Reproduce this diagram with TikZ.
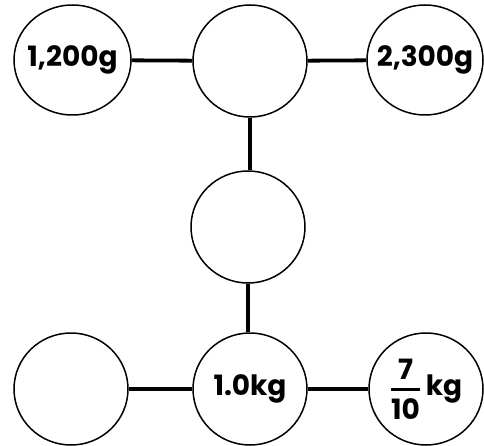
\documentclass[tikz,border=0pt]{standalone}
\usepackage{amsmath}
\usepackage{fontspec}
\setmainfont{Poppins}
\usetikzlibrary{shapes.geometric}
\newcommand{\nowidth}[1]{\makebox[0pt][c]{#1}}
\begin{document}
\begin{tikzpicture}[x=1pt,y=1pt,
  bubble/.style={ellipse,draw,line width=1.5pt,inner sep=0pt,minimum width=115pt,minimum height=111pt,font=\fontsize{28}{30}\selectfont\bfseries},
  link/.style={line width=3.8pt}]
\useasboundingbox (0,0) rectangle (484,445);
\node[bubble,minimum width=117pt,minimum height=110pt] (A) at (72.5,385) {\nowidth{1,200g}};
\node[bubble,minimum width=114pt,minimum height=112pt] (B) at (250,384) {};
\node[bubble,minimum width=116pt,minimum height=110pt] (C) at (425,385) {\nowidth{2,300g}};
\node[bubble,minimum width=114pt,minimum height=112pt] (D) at (248,218) {};
\node[bubble,minimum width=114pt,minimum height=112pt] (E) at (71,56) {};
\node[bubble,minimum width=114pt,minimum height=112pt] (F) at (250,56) {\nowidth{1.0kg}};
\node[bubble,minimum width=114pt,minimum height=112pt] (G) at (426,56) {\nowidth{$\genfrac{}{}{2.5pt}{0}{\text{7}}{\text{10}}$\,kg}};
\draw[link] (A) -- (B);
\draw[link] (B) -- (C);
\draw[link] (B.south) -- (B.south |- D.north);
\draw[link] (D.south) -- (D.south |- F.north);
\draw[link] (E) -- (F);
\draw[link] (F) -- (G);
\end{tikzpicture}
\end{document}
